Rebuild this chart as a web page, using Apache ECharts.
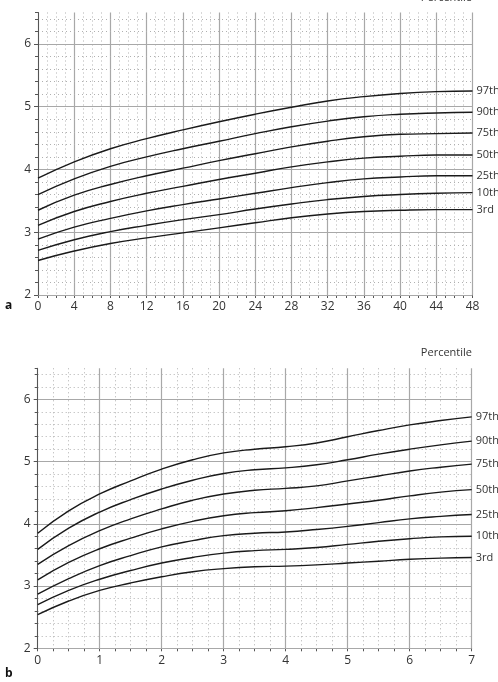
<!DOCTYPE html>
<html>
<head>
<meta charset="utf-8">
<script src="https://cdn.jsdelivr.net/npm/echarts@6/dist/echarts.min.js"></script>
<style>html,body{margin:0;padding:0;background:#fff}#c{width:498px;height:682px}</style>
</head>
<body>
<div id="c"></div>
<script>
// Panel a: age in months
var monthsA = [0, 4, 8, 12, 16, 20, 24, 28, 32, 36, 40, 44, 48];
var a97 = [3.86, 4.12, 4.33, 4.49, 4.63, 4.76, 4.88, 4.99, 5.09, 5.16, 5.21, 5.24, 5.25];
var a90 = [3.60, 3.85, 4.05, 4.20, 4.33, 4.45, 4.57, 4.68, 4.77, 4.84, 4.88, 4.90, 4.91];
var a75 = [3.35, 3.59, 3.76, 3.90, 4.02, 4.14, 4.25, 4.36, 4.45, 4.52, 4.56, 4.57, 4.58];
var a50 = [3.11, 3.33, 3.49, 3.62, 3.73, 3.84, 3.94, 4.04, 4.12, 4.18, 4.21, 4.23, 4.23];
var a25 = [2.89, 3.08, 3.22, 3.34, 3.44, 3.53, 3.62, 3.71, 3.79, 3.85, 3.88, 3.90, 3.90];
var a10 = [2.71, 2.88, 3.01, 3.11, 3.20, 3.28, 3.37, 3.45, 3.52, 3.57, 3.60, 3.62, 3.63];
var a03 = [2.55, 2.70, 2.82, 2.91, 2.99, 3.07, 3.15, 3.23, 3.29, 3.33, 3.35, 3.36, 3.36];

// Panel b: age in years
var yearsB = [0, 0.5, 1, 1.5, 2, 2.5, 3, 3.5, 4, 4.5, 5, 5.5, 6, 6.5, 7];
var b97 = [3.85, 4.21, 4.48, 4.69, 4.88, 5.03, 5.14, 5.20, 5.24, 5.30, 5.40, 5.50, 5.59, 5.66, 5.72];
var b90 = [3.59, 3.93, 4.19, 4.39, 4.56, 4.70, 4.81, 4.87, 4.90, 4.95, 5.03, 5.12, 5.20, 5.27, 5.33];
var b75 = [3.35, 3.65, 3.89, 4.08, 4.24, 4.38, 4.48, 4.54, 4.57, 4.61, 4.69, 4.77, 4.85, 4.91, 4.96];
var b50 = [3.10, 3.38, 3.60, 3.77, 3.92, 4.04, 4.13, 4.18, 4.21, 4.26, 4.32, 4.38, 4.45, 4.51, 4.55];
var b25 = [2.87, 3.12, 3.33, 3.49, 3.63, 3.73, 3.81, 3.85, 3.87, 3.91, 3.96, 4.02, 4.08, 4.12, 4.15];
var b10 = [2.70, 2.93, 3.11, 3.25, 3.37, 3.46, 3.53, 3.57, 3.59, 3.62, 3.67, 3.72, 3.76, 3.79, 3.80];
var b03 = [2.54, 2.76, 2.93, 3.05, 3.15, 3.23, 3.28, 3.31, 3.32, 3.34, 3.37, 3.40, 3.43, 3.45, 3.46];

var percentileNames = ['97th', '90th', '75th', '50th', '25th', '10th', '3rd'];
var seriesA = [a97, a90, a75, a50, a25, a10, a03];
var seriesB = [b97, b90, b75, b50, b25, b10, b03];

var FONT = 'Open Sans';
var TXT = '#333';

function pairs(xs, ys) { return xs.map(function (x, i) { return [x, ys[i]]; }); }

function mkSeries(name, xs, ys, gi) {
  return {
    type: 'line', name: name, smooth: 0.5, symbol: 'none',
    xAxisIndex: gi, yAxisIndex: gi * 2,
    data: pairs(xs, ys),
    lineStyle: { color: '#1a1a1a', width: 1.4 },
    silent: true, animation: false,
    endLabel: { show: true, formatter: '{a}', distance: 4, color: TXT, fontSize: 11, fontFamily: FONT }
  };
}

function xAx(gi, max, interval) {
  return {
    type: 'value', gridIndex: gi, min: 0, max: max, interval: interval,
    axisLine: { show: true, lineStyle: { color: '#555', width: 1 } },
    axisTick: { show: true, length: 3, inside: false, lineStyle: { color: '#555' } },
    minorTick: { show: true, splitNumber: 4, length: 3, lineStyle: { color: '#555' } },
    axisLabel: { color: TXT, fontSize: 12, fontFamily: FONT, margin: 6 },
    splitLine: { show: true, lineStyle: { color: '#a8a8a8', width: 1.2 } },
    minorSplitLine: { show: true, lineStyle: { color: '#b0b0b0', type: [1, 3], width: 1 } }
  };
}
function yMajor(gi) {
  return {
    type: 'value', gridIndex: gi, min: 2, max: 6.5, interval: 1, position: 'left',
    axisLine: { show: true, onZero: false, lineStyle: { color: '#555', width: 1 } },
    axisTick: { show: true, length: 4, lineStyle: { color: '#555' } },
    axisLabel: { color: TXT, fontSize: 12, fontFamily: FONT, margin: 7, showMaxLabel: false,
      formatter: function (v) { return Math.abs(v - Math.round(v)) < 1e-6 ? String(Math.round(v)) : ''; } },
    splitLine: { show: true, showMaxLine: false, lineStyle: { color: '#a8a8a8', width: 1.2 } },
    z: 3
  };
}
function yMinor(gi) {
  return {
    type: 'value', gridIndex: gi, min: 2, max: 6.5, interval: 0.2, position: 'left',
    axisLine: { show: false },
    axisTick: { show: true, length: 3, lineStyle: { color: '#555' } },
    axisLabel: { show: false },
    splitLine: { show: true, showMinLine: false, showMaxLine: false, lineStyle: { color: '#b0b0b0', type: [1, 3], width: 1 } },
    z: 1
  };
}

var series = [];
percentileNames.forEach(function (n, i) { series.push(mkSeries(n, monthsA, seriesA[i], 0)); });
percentileNames.forEach(function (n, i) { series.push(mkSeries(n, yearsB, seriesB[i], 1)); });

var chart = echarts.init(document.getElementById('c'), null, { renderer: 'canvas' });
chart.setOption({
  animation: false,
  backgroundColor: '#fff',
  textStyle: { fontFamily: FONT },
  grid: [
    { left: 38, right: 25.5, top: 12.5, height: 282.5 },
    { left: 37.7, right: 26.3, top: 368.3, height: 280 }
  ],
  xAxis: [xAx(0, 48, 4), xAx(1, 7, 1)],
  yAxis: [yMajor(0), yMinor(0), yMajor(1), yMinor(1)],
  series: series,
  graphic: [
    { type: 'text', right: 26, top: -8, style: { text: 'Percentile', fill: TXT, font: '11px "Open Sans"' } },
    { type: 'text', right: 26, top: 347, style: { text: 'Percentile', fill: TXT, font: '11px "Open Sans"' } },
    { type: 'text', left: 5, top: 300, style: { text: 'a', fill: '#111', font: 'bold 12px "Open Sans"' } },
    { type: 'text', left: 5, top: 668, style: { text: 'b', fill: '#111', font: 'bold 12px "Open Sans"' } }
  ]
});
</script>
</body>
</html>
